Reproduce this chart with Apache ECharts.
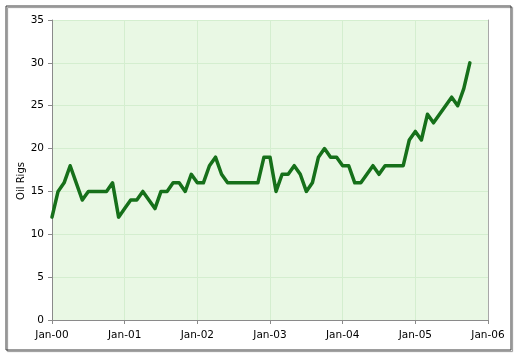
<!DOCTYPE html>
<html>
<head>
<meta charset="utf-8">
<script src="https://cdn.jsdelivr.net/npm/echarts@6/dist/echarts.min.js"></script>
<style>
html,body{margin:0;padding:0;background:#fff;}
#chart{width:519px;height:357px;}
</style>
</head>
<body>
<div id="chart"></div>
<script>
// Monthly oil rig counts, Jan-2000 .. Oct-2005
const rigs2000 = [12,15,16,18,16,14,15,15,15,15,16,12];
const rigs2001 = [13,14,14,15,14,13,15,15,16,16,15,17];
const rigs2002 = [16,16,18,19,17,16,16,16,16,16,16,19];
const rigs2003 = [19,15,17,17,18,17,15,16,19,20,19,19];
const rigs2004 = [18,18,16,16,17,18,17,18,18,18,18,21];
const rigs2005 = [22,21,24,23,24,25,26,25,27,30];
const xTickLabels = ['Jan-00','Jan-01','Jan-02','Jan-03','Jan-04','Jan-05','Jan-06'];
const yName = 'Oil Rigs';

const allValues = [].concat(rigs2000, rigs2001, rigs2002, rigs2003, rigs2004, rigs2005);
const seriesData = allValues.map((v, i) => [i, v]); // x = months since Jan-00

const fontFamily = 'DejaVu Sans';
const chart = echarts.init(document.getElementById('chart'), null, {renderer: 'canvas'});
chart.setOption({
  animation: false,
  backgroundColor: '#ffffff',
  graphic: [{
    type: 'rect',
    shape: {x: 6, y: 6, width: 505, height: 344},
    style: {fill: 'none', stroke: '#3a3a3a', lineWidth: 1, shadowColor: 'rgba(0,0,0,0.45)', shadowOffsetX: 1.5, shadowOffsetY: 1.5, shadowBlur: 1},
    silent: true, z: -1
  }],
  grid: {
    left: 52, right: 31, top: 20, bottom: 37,
    show: true, backgroundColor: '#e9f8e4', borderWidth: 0
  },
  xAxis: {
    type: 'value', min: 0, max: 72, interval: 12,
    axisLine: {show: true, lineStyle: {color: '#8a8a8a', width: 1}},
    axisTick: {show: true, length: 4, lineStyle: {color: '#8a8a8a'}},
    splitLine: {show: true, lineStyle: {color: '#d4eecf', width: 1}},
    axisLabel: {
      color: '#000', fontFamily: fontFamily, fontSize: 10.5, margin: 10,
      formatter: v => xTickLabels[Math.round(v / 12)]
    }
  },
  yAxis: [{
    type: 'value', min: 0, max: 35, interval: 5,
    name: yName, nameLocation: 'middle', nameGap: 26, nameRotate: 90,
    nameMoveOverlap: false,
    nameTextStyle: {color: '#000', fontFamily: fontFamily, fontSize: 10, padding: [0, 22, 0, 0]},
    axisLine: {show: true, lineStyle: {color: '#8a8a8a', width: 1}},
    axisTick: {show: true, length: 4, lineStyle: {color: '#8a8a8a'}},
    splitLine: {show: true, lineStyle: {color: '#d4eecf', width: 1}},
    axisLabel: {color: '#000', fontFamily: fontFamily, fontSize: 10.5, margin: 8}
  }, {
    type: 'value', min: 0, max: 35, interval: 5, position: 'right',
    axisLine: {show: true, lineStyle: {color: '#a8a8a8', width: 1}},
    axisTick: {show: false}, axisLabel: {show: false}, splitLine: {show: false}
  }],
  series: [{
    type: 'line',
    data: seriesData,
    showSymbol: false,
    lineStyle: {color: '#16701a', width: 3.5, join: 'round', cap: 'round'},
    itemStyle: {color: '#16701a'}
  }]
});
</script>
</body>
</html>
